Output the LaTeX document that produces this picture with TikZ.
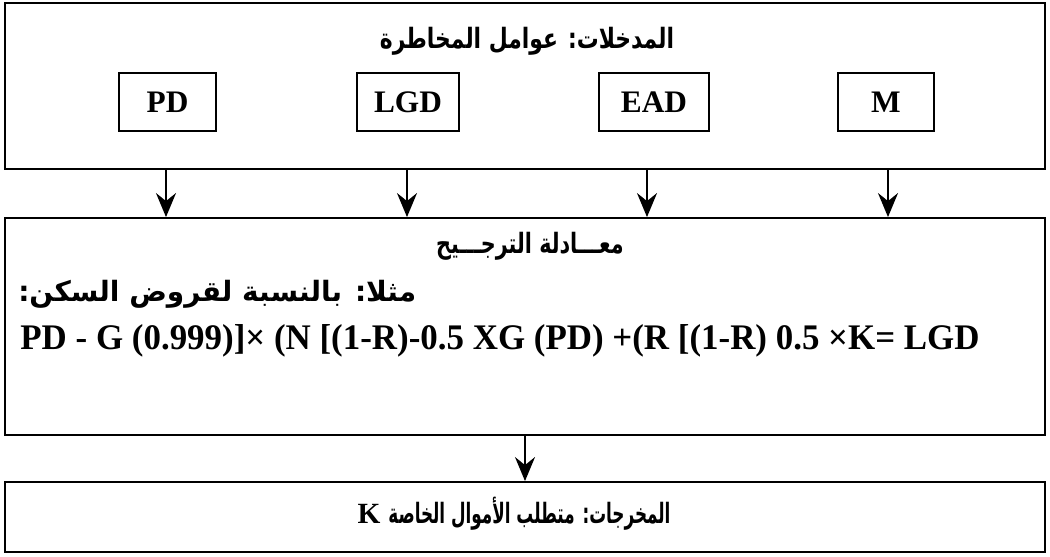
\documentclass[tikz,border=0pt]{standalone}
\usepackage{fontspec}
\setmainfont{Liberation Serif}
\newfontfamily\arabicfont[Script=Arabic]{DejaVu Sans}
\TeXXeTstate=1
\usetikzlibrary{arrows.meta}

% bold Arabic face used by all Arabic labels
\newcommand{\arstyle}{\arabicfont\bfseries\fontsize{21}{24}\selectfont}

\begin{document}
\begin{tikzpicture}[x=0.75pt,y=-0.75pt,
  bigbox/.style={draw,line width=1.4pt,inner sep=0pt},
  varbox/.style={draw,line width=1.3pt,minimum height=43.5pt,inner sep=0pt,
    font=\fontsize{23.5}{26}\selectfont\bfseries},
  arr/.style={line width=1.3pt,-{Stealth[length=18pt,width=15pt,inset=6pt]}},
  label/.style={inner sep=0pt},
  eqn/.style={inner sep=0pt,font=\fontsize{27}{30}\selectfont\bfseries}]
  \useasboundingbox (0,0) rectangle (1050,557);

  % three stacked frames
  \node[bigbox,minimum width=780pt,minimum height=125pt] (in) at (525,86) {};
  \node[bigbox,minimum width=780pt,minimum height=162.75pt] (mid) at (525,326.5) {};
  \node[bigbox,minimum width=780pt,minimum height=52.5pt] (out) at (525,517) {};

  % inputs
  \node[label] (intitle) at (527,41)
    {\scalebox{0.78}[1]{\arstyle\beginR المدخلات: عوامل المخاطرة\endR}};
  \node[varbox,minimum width=72.75pt] (pd)  at (167.5,102) {PD};
  \node[varbox,minimum width=76.5pt]  (lgd) at (408,102)   {LGD};
  \node[varbox,minimum width=83pt]    (ead) at (654,102)   {EAD};
  \node[varbox,minimum width=72pt]    (m)   at (886,102)   {M};

  % weighting formula
  \node[label] (midtitle) at (530,246)
    {\scalebox{0.74}[1]{\arstyle\beginR معـــادلة الترجـــيح\endR}};
  \node[label,anchor=west] (example) at (18,294)
    {\arstyle\beginR مثلا: بالنسبة لقروض السكن:\endR};
  \node[eqn] (formula) at (500,341)
    {\scalebox{0.97}[1]{PD - G (0.999)]× (N [(1-R)-0.5 XG (PD) +(R [(1-R) 0.5 ×K= LGD}};

  % output
  \node[label,font=\fontsize{22}{24}\selectfont\bfseries] (outtext) at (514,514)
    {K\hspace{6pt}\scalebox{0.6}[1]{\arstyle\beginR المخرجات: متطلب الأموال الخاصة\endR}};

  % arrow columns
  \coordinate (c1) at (166,0);
  \coordinate (c2) at (407,0);
  \coordinate (c3) at (647,0);
  \coordinate (c4) at (888,0);
  \foreach \c in {c1,c2,c3,c4}
    \draw[arr] (\c |- in.south) -- (\c |- mid.north);
  \draw[arr] (mid.south) -- (out.north);
\end{tikzpicture}
\end{document}
